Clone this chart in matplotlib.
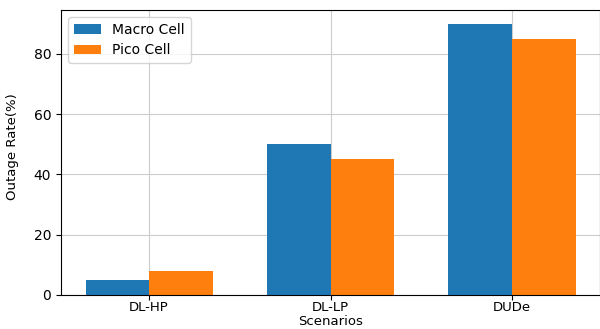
import matplotlib
matplotlib.use("Agg")
import matplotlib.pyplot as plt
import numpy as np

categories = ["DL-HP", "DL-LP", "DUDe"]
macro = [5, 50, 90]
pico = [8, 45, 85]

fig = plt.figure(figsize=(6, 3.29), dpi=100)
ax = fig.add_axes([61/600, 34/329, 539/600, 285/329])
x = np.arange(len(categories))
w = 0.35
ax.bar(x - w/2, macro, w, label="Macro Cell", color="#1f77b4")
ax.bar(x + w/2, pico, w, label="Pico Cell", color="#ff7f0e")
ax.set_xticks(x)
ax.set_xticklabels(categories)
ax.set_yticks([0, 20, 40, 60, 80])
ax.tick_params(axis="x", pad=1, labelsize=9.5)
ax.grid(True, color="#cccccc", linewidth=0.8)
ax.set_axisbelow(True)
ax.set_xlabel("Scenarios", fontsize=9.5)
ax.xaxis.set_label_coords(0.5, -0.094)
ax.xaxis.label.set_va("center")
ax.set_ylabel("Outage Rate(%)", fontsize=9.5)
ax.yaxis.set_label_coords(-0.078, 0.52)
ax.legend(loc="upper left")
fig.savefig("out.png", dpi=100)
